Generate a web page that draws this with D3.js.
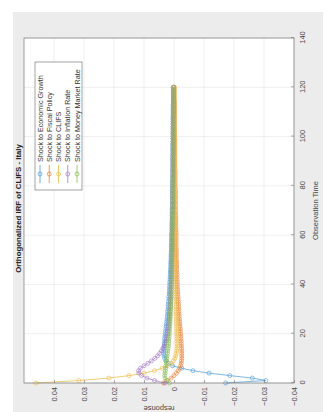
<!DOCTYPE html>
<html>
<head>
<meta charset="utf-8">
<script src="https://cdn.jsdelivr.net/npm/d3@7"></script>
<style>
  html, body { margin: 0; padding: 0; background: #fff; }
  svg { display: block; font-family: "Liberation Sans", Arial, sans-serif; }
</style>
</head>
<body>
<div id="chart"></div>
<script>
// ---------------------------
// Data
// ---------------------------
const horizon = d3.range(0, 121);
const timeTicks = [0, 20, 40, 60, 80, 100, 120, 140];
const responseTicks = [-0.04, -0.03, -0.02, -0.01, 0, 0.01, 0.02, 0.03, 0.04];

const seriesNames = [
  'Shock to Economic Growth',
  'Shock to Fiscal Policy',
  'Shock to CLIFS',
  'Shock to Inflation Rate',
  'Shock to Money Market Rate'
];

const growth = [
  -0.0172,-0.0306,-0.0261,-0.0186,-0.0117,-0.0063,-0.0026,0.0005,0.0019,0.0027,0.0031,0.0033,0.0034,0.0034,0.0033,
  0.0033,0.0032,0.0031,0.0031,0.0030,0.0029,0.0028,0.0027,0.0026,0.0025,0.0024,0.0023,0.0022,0.0021,0.0021,
  0.0020,0.0019,0.0019,0.0018,0.0017,0.0017,0.0016,0.0016,0.0015,0.0015,0.0014,0.0014,0.0013,0.0013,0.0012,
  0.0012,0.0012,0.0011,0.0011,0.0011,0.0010,0.0010,0.0010,0.0009,0.0009,0.0009,0.0009,0.0008,0.0008,0.0008,
  0.0008,0.0007,0.0007,0.0007,0.0007,0.0007,0.0006,0.0006,0.0006,0.0006,0.0006,0.0006,0.0005,0.0005,0.0005,
  0.0005,0.0005,0.0005,0.0005,0.0005,0.0005,0.0005,0.0005,0.0004,0.0004,0.0004,0.0004,0.0004,0.0004,0.0004,
  0.0004,0.0004,0.0004,0.0004,0.0004,0.0004,0.0004,0.0004,0.0003,0.0003,0.0003,0.0003,0.0003,0.0003,0.0003,
  0.0003,0.0003,0.0003,0.0003,0.0003,0.0003,0.0003,0.0003,0.0003,0.0002,0.0002,0.0002,0.0002,0.0002,0.0002,0.0002
];

const fiscal = [
  0.0035,0.0022,0.0010,0.0000,-0.0008,-0.0014,-0.0019,-0.0022,-0.0024,-0.0025,-0.0026,-0.0026,-0.0026,-0.0026,-0.0025,
  -0.0025,-0.0024,-0.0024,-0.0023,-0.0023,-0.0022,-0.0021,-0.0021,-0.0020,-0.0019,-0.0019,-0.0018,-0.0017,-0.0017,-0.0016,
  -0.0016,-0.0015,-0.0015,-0.0014,-0.0014,-0.0013,-0.0013,-0.0012,-0.0012,-0.0011,-0.0011,-0.0011,-0.0010,-0.0010,-0.0010,
  -0.0009,-0.0009,-0.0009,-0.0009,-0.0009,-0.0008,-0.0008,-0.0008,-0.0008,-0.0008,-0.0007,-0.0007,-0.0007,-0.0007,-0.0007,
  -0.0007,-0.0007,-0.0007,-0.0006,-0.0006,-0.0006,-0.0006,-0.0006,-0.0006,-0.0005,-0.0005,-0.0005,-0.0005,-0.0005,-0.0005,
  -0.0005,-0.0005,-0.0005,-0.0005,-0.0004,-0.0004,-0.0004,-0.0004,-0.0004,-0.0004,-0.0004,-0.0004,-0.0003,-0.0003,-0.0003,
  -0.0003,-0.0003,-0.0003,-0.0003,-0.0003,-0.0003,-0.0003,-0.0003,-0.0003,-0.0003,-0.0002,-0.0002,-0.0002,-0.0002,-0.0002,
  -0.0002,-0.0002,-0.0002,-0.0002,-0.0002,-0.0002,-0.0002,-0.0002,-0.0002,-0.0002,-0.0001,-0.0001,-0.0001,-0.0001,-0.0001,-0.0001
];

const clifs = [
  0.0460,0.0317,0.0217,0.0150,0.0100,0.0065,0.0040,0.0022,0.0010,0.0002,-0.0003,-0.0006,-0.0008,-0.0009,-0.0010,
  -0.0010,-0.0010,-0.0010,-0.0010,-0.0010,-0.0009,-0.0009,-0.0009,-0.0009,-0.0008,-0.0008,-0.0008,-0.0008,-0.0007,-0.0007,
  -0.0007,-0.0007,-0.0007,-0.0007,-0.0007,-0.0006,-0.0006,-0.0006,-0.0006,-0.0006,-0.0005,-0.0005,-0.0005,-0.0005,-0.0005,
  -0.0005,-0.0005,-0.0005,-0.0005,-0.0005,-0.0004,-0.0004,-0.0004,-0.0004,-0.0004,-0.0004,-0.0004,-0.0004,-0.0004,-0.0004,
  -0.0003,-0.0003,-0.0003,-0.0003,-0.0003,-0.0003,-0.0003,-0.0003,-0.0003,-0.0003,-0.0003,-0.0003,-0.0003,-0.0003,-0.0003,
  -0.0003,-0.0003,-0.0003,-0.0003,-0.0003,-0.0002,-0.0002,-0.0002,-0.0002,-0.0002,-0.0002,-0.0002,-0.0002,-0.0002,-0.0002,
  -0.0002,-0.0002,-0.0002,-0.0002,-0.0002,-0.0002,-0.0002,-0.0002,-0.0002,-0.0002,-0.0002,-0.0002,-0.0002,-0.0002,-0.0002,
  -0.0001,-0.0001,-0.0001,-0.0001,-0.0001,-0.0001,-0.0001,-0.0001,-0.0001,-0.0001,-0.0001,-0.0001,-0.0001,-0.0001,-0.0001,-0.0001
];

const inflation = [
  0.0030,0.0065,0.0090,0.0108,0.0117,0.0118,0.0112,0.0100,0.0087,0.0075,0.0064,0.0055,0.0048,0.0042,0.0037,
  0.0033,0.0030,0.0027,0.0025,0.0023,0.0021,0.0020,0.0019,0.0018,0.0017,0.0016,0.0015,0.0015,0.0014,0.0013,
  0.0013,0.0012,0.0012,0.0011,0.0011,0.0010,0.0010,0.0010,0.0010,0.0010,0.0009,0.0009,0.0009,0.0009,0.0009,
  0.0009,0.0008,0.0008,0.0008,0.0008,0.0008,0.0008,0.0007,0.0007,0.0007,0.0007,0.0007,0.0007,0.0007,0.0007,
  0.0007,0.0007,0.0006,0.0006,0.0006,0.0006,0.0006,0.0006,0.0006,0.0006,0.0005,0.0005,0.0005,0.0005,0.0005,
  0.0005,0.0005,0.0005,0.0005,0.0005,0.0004,0.0004,0.0004,0.0004,0.0004,0.0004,0.0004,0.0004,0.0004,0.0004,
  0.0004,0.0004,0.0004,0.0003,0.0003,0.0003,0.0003,0.0003,0.0003,0.0003,0.0003,0.0003,0.0003,0.0003,0.0003,
  0.0003,0.0003,0.0003,0.0003,0.0002,0.0002,0.0002,0.0002,0.0002,0.0002,0.0002,0.0002,0.0002,0.0002,0.0002,0.0002
];

const moneyRate = [
  0.0015,0.0025,0.0030,0.0031,0.0030,0.0029,0.0028,0.0027,0.0026,0.0025,0.0024,0.0023,0.0022,0.0021,0.0020,
  0.0019,0.0018,0.0018,0.0017,0.0016,0.0016,0.0015,0.0015,0.0014,0.0014,0.0013,0.0013,0.0012,0.0012,0.0012,
  0.0011,0.0011,0.0011,0.0011,0.0010,0.0010,0.0010,0.0010,0.0009,0.0009,0.0009,0.0009,0.0008,0.0008,0.0008,
  0.0008,0.0008,0.0008,0.0007,0.0007,0.0007,0.0007,0.0007,0.0007,0.0006,0.0006,0.0006,0.0006,0.0006,0.0006,
  0.0006,0.0006,0.0006,0.0005,0.0005,0.0005,0.0005,0.0005,0.0005,0.0005,0.0005,0.0004,0.0004,0.0004,0.0004,
  0.0004,0.0004,0.0004,0.0004,0.0004,0.0004,0.0004,0.0004,0.0004,0.0004,0.0003,0.0003,0.0003,0.0003,0.0003,
  0.0003,0.0003,0.0003,0.0003,0.0003,0.0003,0.0003,0.0003,0.0003,0.0003,0.0003,0.0003,0.0003,0.0003,0.0003,
  0.0002,0.0002,0.0002,0.0002,0.0002,0.0002,0.0002,0.0002,0.0002,0.0002,0.0002,0.0002,0.0002,0.0002,0.0002,0.0002
];

const seriesValues = [growth, fiscal, clifs, inflation, moneyRate];
const seriesColors = ['#4c9ad8', '#e9823a', '#eebb45', '#a678c8', '#86bb55'];

// ---------------------------
// Layout: the whole figure is drawn upright, then turned -90deg
// ---------------------------
const screenW = 333, screenH = 412;
const plot = { left: 29, right: 374, top: 24, bottom: 294 };

const svg = d3.select('#chart').append('svg')
  .attr('width', screenW)
  .attr('height', screenH);

const fig = svg.append('g')
  .attr('transform', `translate(0,${screenH}) rotate(-90)`);

// figure background (grey) and axes background (white)
fig.append('rect')
  .attr('x', 0).attr('y', 13)
  .attr('width', 400).attr('height', 310)
  .attr('fill', '#ececec');

fig.append('rect')
  .attr('x', plot.left).attr('y', plot.top)
  .attr('width', plot.right - plot.left).attr('height', plot.bottom - plot.top)
  .attr('fill', '#fff');

const x = d3.scaleLinear().domain([0, 140]).range([plot.left, plot.right]);
const y = d3.scaleLinear().domain([-0.04, 0.05]).range([plot.bottom, plot.top]);

// grid
fig.append('g').selectAll('line').data(timeTicks).join('line')
  .attr('x1', d => x(d)).attr('x2', d => x(d))
  .attr('y1', plot.top).attr('y2', plot.bottom)
  .attr('stroke', '#e4e4e4').attr('stroke-width', 0.6);
fig.append('g').selectAll('line').data(responseTicks).join('line')
  .attr('x1', plot.left).attr('x2', plot.right)
  .attr('y1', d => y(d)).attr('y2', d => y(d))
  .attr('stroke', '#e4e4e4').attr('stroke-width', 0.6);

// series
const line = d3.line().x((d, i) => x(horizon[i])).y(d => y(d));

seriesValues.forEach((vals, k) => {
  const g = fig.append('g').attr('opacity', 0.9);
  g.append('path')
    .attr('d', line(vals))
    .attr('fill', 'none')
    .attr('stroke', seriesColors[k])
    .attr('stroke-width', 0.8);
  g.selectAll('circle').data(vals).join('circle')
    .attr('cx', (d, i) => x(horizon[i]))
    .attr('cy', d => y(d))
    .attr('r', 2)
    .attr('fill', 'none')
    .attr('stroke', seriesColors[k])
    .attr('stroke-width', 0.7);
});

// axes (ticks point inward, box around)
const fmt = d => d === 0 ? '0' : d3.format('.2f')(d);

const xAxis = fig.append('g')
  .attr('transform', `translate(0,${plot.bottom})`)
  .call(d3.axisBottom(x).tickValues(timeTicks).tickSizeInner(-3).tickSizeOuter(0).tickPadding(6));
const yAxis = fig.append('g')
  .attr('transform', `translate(${plot.left},0)`)
  .call(d3.axisLeft(y).tickValues(responseTicks).tickFormat(fmt).tickSizeInner(-3).tickSizeOuter(0).tickPadding(4));

[xAxis, yAxis].forEach(a => {
  a.select('.domain').remove();
  a.selectAll('.tick line').attr('stroke', '#777').attr('stroke-width', 0.6);
  a.selectAll('.tick text')
    .attr('fill', '#444')
    .style('font-size', '7.5px')
    .style('font-family', '"Liberation Sans", Arial, sans-serif');
});

fig.append('rect')
  .attr('x', plot.left).attr('y', plot.top)
  .attr('width', plot.right - plot.left).attr('height', plot.bottom - plot.top)
  .attr('fill', 'none')
  .attr('stroke', '#777')
  .attr('stroke-width', 0.7);

// labels
fig.append('text')
  .attr('x', (plot.left + plot.right) / 2 + 2)
  .attr('y', 20.5)
  .attr('text-anchor', 'middle')
  .attr('font-weight', 'bold')
  .attr('font-size', '7.8px')
  .attr('fill', '#222')
  .text('Orthogonalized IRF of CLIFS - Italy');

fig.append('text')
  .attr('x', (plot.left + plot.right) / 2)
  .attr('y', 318)
  .attr('text-anchor', 'middle')
  .attr('font-size', '7.5px')
  .attr('fill', '#444')
  .text('Observation Time');

fig.append('text')
  .attr('transform', `translate(6,${(plot.top + plot.bottom) / 2}) rotate(-90)`)
  .attr('text-anchor', 'middle')
  .attr('font-size', '7.5px')
  .attr('fill', '#444')
  .text('response');

// legend
const legend = fig.append('g');
legend.append('rect')
  .attr('x', 222).attr('y', 35)
  .attr('width', 128).attr('height', 47)
  .attr('fill', '#fff')
  .attr('stroke', '#666')
  .attr('stroke-width', 0.6);

const rows = legend.selectAll('g.row').data(seriesNames).join('g')
  .attr('class', 'row')
  .attr('transform', (d, i) => `translate(0,${40 + i * 9.25})`);
rows.append('line')
  .attr('x1', 229).attr('x2', 247)
  .attr('stroke', (d, i) => seriesColors[i])
  .attr('stroke-width', 0.8);
rows.append('circle')
  .attr('cx', 238).attr('r', 2)
  .attr('fill', 'none')
  .attr('stroke', (d, i) => seriesColors[i])
  .attr('stroke-width', 0.7);
rows.append('text')
  .attr('x', 250)
  .attr('dy', '0.35em')
  .attr('font-size', '7.2px')
  .attr('fill', '#333')
  .text(d => d);
</script>
</body>
</html>
